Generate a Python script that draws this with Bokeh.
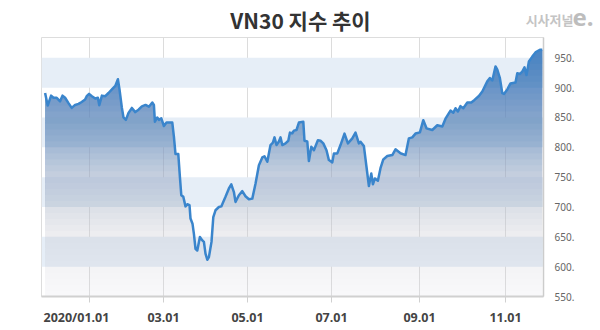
import numpy as np
from bokeh.plotting import figure
from bokeh.layouts import column
from bokeh.models import Range1d, FixedTicker
from bokeh.core.properties import value
from bokeh.embed import file_html
from bokeh.resources import INLINE

# trading-day index (0 = first trading day of 2020) and VN30 index value
days = [-22.2, -20.9, -19.2, -18, -16.4, -14.7, -13.5, -12.2, -10.5, -8.9, -7.2, -5.5, -3.9, -2.2,
        -1.4, -0.2, 1.2, 2.9, 4.2, 4.9, 6.2, 7.9, 9.5, 11.2, 12.9, 14.2, 15, 16.2, 17, 18.2, 19.5,
        21.2, 22.9, 24.5, 26.2, 28, 29.7, 31.4, 32.2, 32.7, 33.9, 34.7, 35.9, 37.2, 38.5, 41.4,
        42.2, 43, 44.4, 45.2, 45.9, 46.9, 48, 48.9, 50, 50.5, 51.5, 52.2, 53, 53.9, 55.2, 56.4,
        57.2, 58, 58.9, 59.7, 61, 61.9, 63, 64.7, 65.9, 68, 69.7, 70.9, 72.2, 73, 74.7, 76.4, 78,
        79.7, 81.4, 83, 84.7, 86.4, 87.5, 88.9, 90.5, 91.7, 92.5, 93.5, 94.7, 95.5, 96.4, 98, 99.4,
        100.2, 101.4, 102.2, 103.5, 104.7, 106.9, 107.5, 108.9, 109.7, 110.9, 112.2, 114.2, 115.5,
        116.9, 118.5, 119.7, 121.4, 122.2, 123.9, 125.5, 127.5, 129.2, 131.4, 133, 134.7, 135.5,
        137.2, 138.5, 139.7, 140.9, 141.7, 142.7, 144.2, 145.5, 146.9, 148.9, 151.4, 153, 155.5,
        158, 159.7, 161.4, 163, 165.2, 166.9, 168.5, 171.4, 173.9, 176.4, 178, 180.5, 181.9, 183,
        184.2, 185.5, 186.9, 188.9, 190.9, 192.5, 194.7, 196.4, 198.9, 200.2, 201.4, 203, 203.9,
        205.2, 206.4, 207.2, 208.9, 210.5, 213, 213.9, 215.2, 216.4, 217.5, 218.5, 219.7, 221.4,
        223, 225.2, 226.4]
values = [891, 870, 886.6, 883, 883, 877, 886.6, 883, 874, 866, 871, 872.7, 876, 880,
          885.6, 889.5, 885.6, 881.7, 883, 870.5, 886.6, 885.6, 891, 897, 902.8, 914, 897, 866, 850, 846, 857.6,
          866, 859, 863, 868.7, 871, 868, 875, 871, 843, 850, 846, 848.6, 835.7, 841.5, 841.5,
          818, 788.6, 788.6, 750.5, 719.7, 717, 701, 704.6, 703, 680.6, 672, 655, 630, 627, 649.7, 644,
          641.5, 621.8, 611.6, 616, 641.5, 683, 694.5, 700, 701, 717, 731, 738, 725, 708.5, 719.7, 726.5, 718,
          713, 714, 739, 770, 783, 785, 775.7, 803.8, 807.8, 816.6, 803.8, 809.7, 816.6, 803.8, 806.6, 811,
          824.6, 823.5, 828, 829, 841.5, 843, 811, 809.7, 777, 801, 795, 812, 811,
          806.6, 795, 778.6, 774.8, 789.8, 789.8, 803.8, 823, 806.6, 815, 824.6, 806.6, 809.3,
          802, 767, 735, 756, 738, 747.8, 744, 765, 779.7, 785.3, 787, 796.6, 790,
          787, 815, 816.6, 823, 825, 845.5, 831.8, 829, 837, 835, 848, 861.5, 858, 865.5,
          860, 869, 865.5, 875, 875, 879.4, 886, 893.5, 910.5, 916, 912, 935.5, 930,
          916, 890.7, 889.5, 897, 907, 908.6, 924, 923, 927, 934, 921, 943.7, 952,
          959, 963.4, 963.4]

x_tick_days = [0, 37, 79, 121, 165, 208]
x_tick_labels = ["2020/01.01", "03.01", "05.01", "07.01", "09.01", "11.01"]
y_ticks = [550, 600, 650, 700, 750, 800, 850, 900, 950]
y_tick_labels = ["550.", "600.", "650.", "700.", "750.", "800.", "850.", "900.", "950."]
title_text = "VN30 지수 추이"
logo_text = ["시사저널", "e."]

x_rng = Range1d(-24, 227)

# ---------- header (title + logo) ----------
head = figure(width=600, height=37, output_backend="svg", toolbar_location=None,
              x_range=Range1d(0, 600), y_range=Range1d(0, 37),
              x_axis_location=None, y_axis_location=None,
              min_border_left=0, min_border_right=0, min_border_top=0, min_border_bottom=0)
head.grid.visible = False
head.outline_line_color = None
head.background_fill_color = "white"
head.border_fill_color = "white"
head.text(x=[300], y=[18], text=[title_text], text_align="center", text_baseline="middle",
          text_font=value("Noto Sans CJK KR"), text_font_style="bold", text_font_size="21px",
          text_color="#333333")
head.text(x=[573], y=[18], text=[logo_text[0]], text_align="right", text_baseline="middle",
          text_font=value("Noto Sans CJK KR"), text_font_style="bold", text_font_size="13px",
          text_color="#c4c4c4")
head.text(x=[572], y=[20], text=[logo_text[1]], text_align="left", text_baseline="middle",
          text_font=value("Noto Sans"), text_font_style="bold", text_font_size="24px",
          text_color="#bdbdbd")

# ---------- main chart ----------
p = figure(width=600, height=267, output_backend="svg", toolbar_location=None,
           x_range=x_rng, y_range=Range1d(550, 984),
           y_axis_location="right",
           min_border_left=41, min_border_right=57, min_border_top=0, min_border_bottom=8)
p.background_fill_color = "white"
p.border_fill_color = "white"
p.outline_line_color = "#dddddd"

p.xgrid.ticker = FixedTicker(ticks=x_tick_days)
p.xgrid.grid_line_color = "#dcdcdc"
p.ygrid.ticker = FixedTicker(ticks=y_ticks)
p.ygrid.grid_line_color = None
p.ygrid.band_fill_color = "#e6eef7"
p.ygrid.band_fill_alpha = 1.0

xs_d = np.array(days, dtype=float)
vs_d = np.array(values, dtype=float)


def clip_above(xs, vs, t):
    ox, oy = [], []
    for i in range(len(xs)):
        if i > 0:
            v0, v1 = vs[i - 1], vs[i]
            if (v0 - t) * (v1 - t) < 0:
                s = (t - v0) / (v1 - v0)
                ox.append(xs[i - 1] + s * (xs[i] - xs[i - 1]))
                oy.append(t)
        ox.append(xs[i])
        oy.append(max(vs[i], t))
    return ox, oy


stop_y = [550, 650, 750, 850, 960]
stop_c = np.array([[248, 248, 250], [240, 240, 244], [205, 214, 230], [140, 172, 210], [78, 136, 200]], float)


def target(y):
    return np.array([np.interp(y, stop_y, stop_c[:, j]) for j in range(3)])


levels = np.arange(550, 961, 10)
A = 0.2 + 0.75 * (levels - 550) / 410.0
prev = np.array([255.0, 255.0, 255.0])
prevA = 0.0
for k, t in enumerate(levels):
    a = 1 - (1 - A[k]) / (1 - prevA)
    T = target(t + 5)
    c = np.clip((T - (1 - a) * prev) / a, 0, 255)
    prev = a * c + (1 - a) * prev
    prevA = A[k]
    col = "#%02x%02x%02x" % tuple(int(round(v)) for v in c)
    lx, ly = clip_above(xs_d, vs_d, float(t))
    p.varea(x=lx, y1=float(t), y2=ly, fill_color=col, fill_alpha=float(a))

p.line(days, values, line_color="#3a85cc", line_width=2.5, line_join="round")

xa = p.xaxis[0]
xa.ticker = FixedTicker(ticks=x_tick_days)
xa.major_label_overrides = {d: "" for d in x_tick_days}
xa.major_label_text_font_size = "0px"
xa.major_label_standoff = 0
xa.axis_line_color = "#d0d0d0"
xa.axis_line_width = 2
xa.major_tick_line_color = "#d0d0d0"
xa.major_tick_out = 6
xa.major_tick_in = 0
xa.minor_tick_line_color = None

ya = p.yaxis[0]
ya.ticker = FixedTicker(ticks=y_ticks)
ya.major_label_overrides = dict(zip(y_ticks, y_tick_labels))
ya.axis_line_color = "#cccccc"
ya.axis_line_width = 1.5
ya.major_tick_line_color = None
ya.minor_tick_line_color = None
ya.major_label_standoff = 5
ya.major_label_text_font = "Noto Sans"
ya.major_label_text_font_size = "10px"
ya.major_label_text_color = "#666666"

# ---------- footer (x tick labels, same x scale) ----------
foot = figure(width=600, height=26, output_backend="svg", toolbar_location=None,
              x_range=x_rng, y_range=Range1d(0, 26),
              x_axis_location=None, y_axis_location=None,
              min_border_left=41, min_border_right=57, min_border_top=0, min_border_bottom=0)
foot.grid.visible = False
foot.outline_line_color = None
foot.background_fill_color = "white"
foot.border_fill_color = "white"
foot.text(x=x_tick_days[1:], y=[13] * (len(x_tick_days) - 1), text=x_tick_labels[1:],
          text_align="center", text_baseline="middle", text_font=value("Noto Sans"),
          text_font_style="bold", text_font_size="12.5px", text_color="#444444")
foot.text(x=[x_rng.start], y=[13], text=[x_tick_labels[0]], x_offset=2,
          text_align="left", text_baseline="middle", text_font=value("Noto Sans"),
          text_font_style="bold", text_font_size="12.5px", text_color="#444444")

layout = column(head, column(p, foot, spacing=0), spacing=0)
open("out.html", "w").write(file_html(layout, INLINE))
